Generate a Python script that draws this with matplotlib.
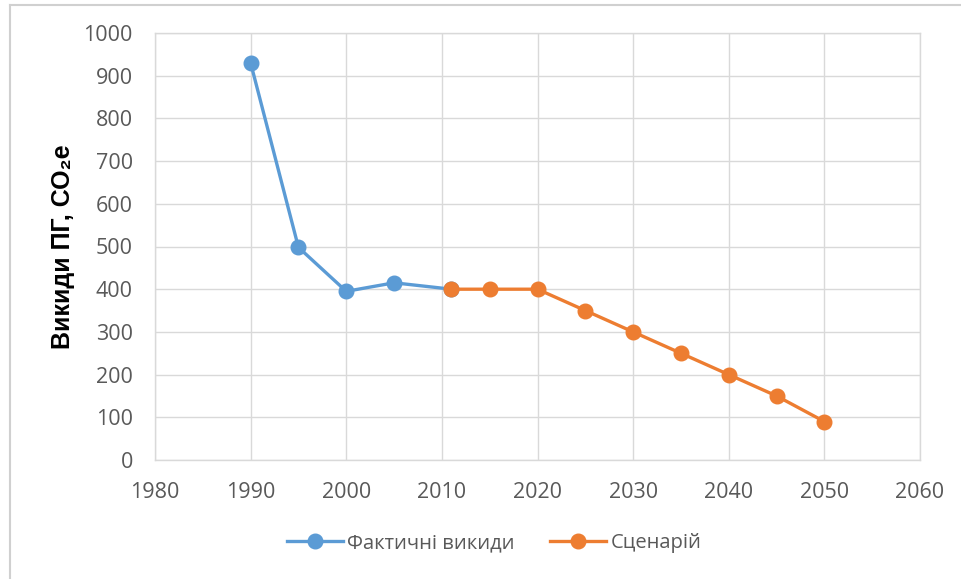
import matplotlib
matplotlib.use("Agg")
import matplotlib.pyplot as plt
from matplotlib.lines import Line2D

plt.rcParams['font.family'] = ['Open Sans', 'Noto Sans', 'DejaVu Sans']

actual_years = [1990, 1995, 2000, 2005, 2011]
actual_values = [930, 498, 395, 415, 400]
scenario_years = [2011, 2015, 2020, 2025, 2030, 2035, 2040, 2045, 2050]
scenario_values = [400, 400, 400, 350, 300, 250, 200, 150, 90]
x_ticks = [1980, 1990, 2000, 2010, 2020, 2030, 2040, 2050, 2060]
y_ticks = [0, 100, 200, 300, 400, 500, 600, 700, 800, 900, 1000]
labels = ['Фактичні викиди', 'Сценарій']
ylabel = 'Викиди ПГ, СО₂е'

W, H = 961, 579
fig = plt.figure(figsize=(W / 100, H / 100), dpi=100)
ax = fig.add_axes([155 / W, 1 - 460 / H, (920 - 155) / W, (460 - 33) / H])

blue = '#5B9BD5'
orange = '#ED7D31'
grid = '#D9D9D9'
tick_col = '#595959'

ax.plot(actual_years, actual_values, color=blue, lw=2.4, marker='o', ms=10.5,
        label=labels[0], zorder=3)
ax.plot(scenario_years, scenario_values, color=orange, lw=2.4, marker='o', ms=10.5,
        label=labels[1], zorder=4)

ax.set_xlim(1980, 2060)
ax.set_ylim(0, 1000)
ax.set_xticks(x_ticks)
ax.set_yticks(y_ticks)
ax.grid(True, color=grid, lw=1)
ax.set_axisbelow(True)
for s in ax.spines.values():
    s.set_color(grid)
    s.set_linewidth(1)
ax.tick_params(length=0, labelsize=15.5, colors=tick_col)
ax.tick_params(axis='y', pad=16)
ax.tick_params(axis='x', pad=16)

ax.set_ylabel(ylabel, fontsize=18, fontweight='bold', color='black', labelpad=6,
              family=['Liberation Sans', 'DejaVu Sans'])

leg = fig.legend(loc='center', bbox_to_anchor=(494 / W, 1 - 543 / H), ncol=2, frameon=False,
                 fontsize=14.5, handlelength=2.8, columnspacing=1.75, handletextpad=0.2)
for t in leg.get_texts():
    t.set_color(tick_col)

fig.add_artist(Line2D([10 / W, 10 / W], [0, 1 - 5 / H], transform=fig.transFigure,
                      color='#D0D0D0', lw=1.5))
fig.add_artist(Line2D([10 / W, 1], [1 - 5 / H, 1 - 5 / H], transform=fig.transFigure,
                      color='#D0D0D0', lw=1.5))

fig.savefig('out.png', dpi=100)
